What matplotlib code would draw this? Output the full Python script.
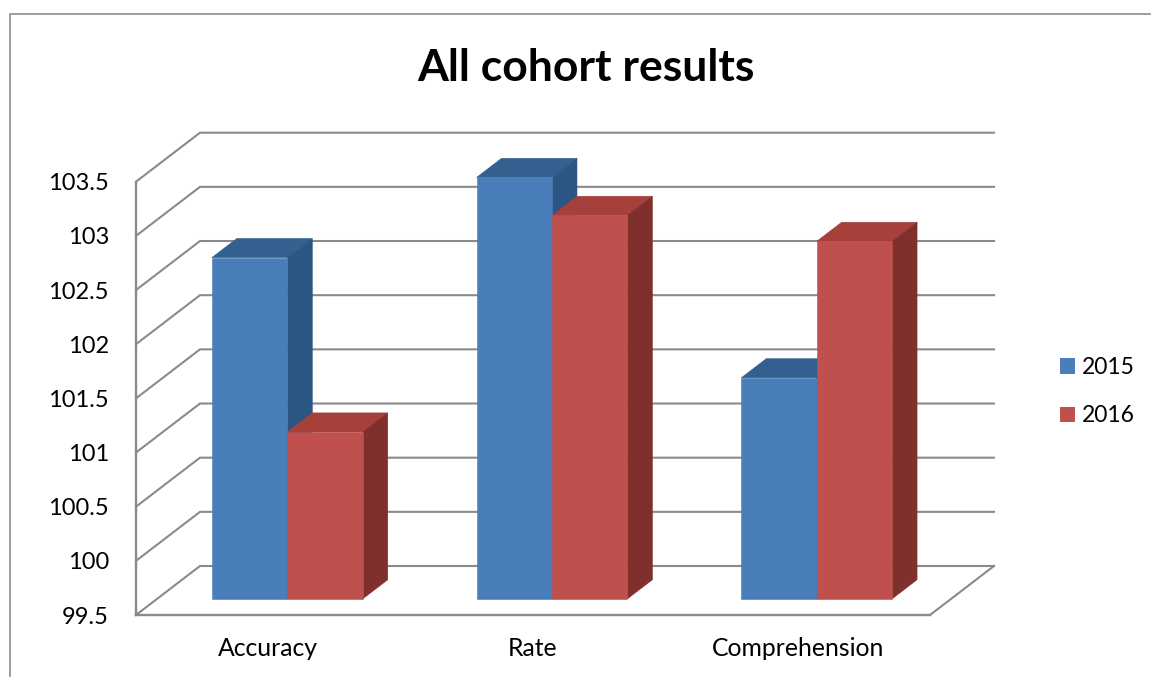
import matplotlib
matplotlib.use("Agg")
import matplotlib.pyplot as plt
from matplotlib.lines import Line2D
from matplotlib.patches import Patch, Polygon

categories = ["Accuracy", "Rate", "Comprehension"]
series_names = ["2015", "2016"]
values_2015 = [102.65, 103.39, 101.54]
values_2016 = [101.04, 103.04, 102.80]
y_ticks = [99.5, 100, 100.5, 101, 101.5, 102, 102.5, 103, 103.5]
y_tick_labels = ["99.5", "100", "100.5", "101", "101.5", "102", "102.5", "103", "103.5"]

W, H = 1151, 677
plt.rcParams["font.family"] = ["Lato", "DejaVu Sans"]

GRID = "#8a8a8a"
BLUE = ("#4a7ebb", "#33608f", "#2b5582")
RED = ("#c0504d", "#a5403a", "#7f2f2c")

# oblique depth, one unit of depth in data units
DEPTH_X = 64 / (794 / 3)
DEPTH_Y = 49 / (433.3 / 4)
BAR_W = 0.285
BAR_SHIFT = -0.008
BAR_D0 = 0.33
BAR_D1 = 0.72


def proj(x, v, d=0.0):
    return (x + d * DEPTH_X, v + d * DEPTH_Y)


def draw_bar(ax, x, value, colors, z):
    front, top, side = colors
    base = y_ticks[0]
    x2 = x + BAR_W
    ax.add_patch(Polygon([proj(x, base, BAR_D0), proj(x2, base, BAR_D0),
                          proj(x2, value, BAR_D0), proj(x, value, BAR_D0)],
                         fc=front, ec=front, lw=0.4, clip_on=False, zorder=z + 0.2))
    ax.add_patch(Polygon([proj(x, value, BAR_D0), proj(x2, value, BAR_D0),
                          proj(x2, value, BAR_D1), proj(x, value, BAR_D1)],
                         fc=top, ec=top, lw=0.4, clip_on=False, zorder=z))
    ax.add_patch(Polygon([proj(x2, base, BAR_D0), proj(x2, base, BAR_D1),
                          proj(x2, value, BAR_D1), proj(x2, value, BAR_D0)],
                         fc=side, ec=side, lw=0.4, clip_on=False, zorder=z + 0.1))


fig = plt.figure(figsize=(W / 100, H / 100), dpi=100)
ax = fig.add_axes([136 / W, (H - 615) / H, 794 / W, 433.3 / H])
ax.set_xlim(0, 3)
ax.set_ylim(y_ticks[0], y_ticks[-1])

# back wall and left wall grid
for v in y_ticks:
    xs, ys = zip(proj(0, v), proj(0, v, 1), proj(3, v, 1))
    ax.plot(xs, ys, color=GRID, lw=1.5, clip_on=False, zorder=1, solid_joinstyle="miter")
# floor edge on the right
xs, ys = zip(proj(3, y_ticks[0]), proj(3, y_ticks[0], 1))
ax.plot(xs, ys, color=GRID, lw=1.5, clip_on=False, zorder=1)

for i in range(len(categories)):
    x0 = i + 0.5 - BAR_W + BAR_SHIFT
    draw_bar(ax, x0, values_2015[i], BLUE, 3 + i)
    draw_bar(ax, x0 + BAR_W, values_2016[i], RED, 3.5 + i)

ax.set_xticks([i + 0.5 for i in range(len(categories))])
ax.set_xticklabels(categories, fontsize=17.8)
ax.set_yticks(y_ticks)
ax.set_yticklabels(y_tick_labels, fontsize=17)
ax.tick_params(axis="both", length=0, labelcolor="black")
ax.tick_params(axis="x", pad=16)
ax.tick_params(axis="y", pad=19.5)
for side in ["top", "right"]:
    ax.spines[side].set_visible(False)
for side in ["left", "bottom"]:
    ax.spines[side].set_color(GRID)
    ax.spines[side].set_linewidth(1.7)
ax.patch.set_visible(False)

fig.text(586 / W, 1 - 68 / H, "All cohort results", fontsize=32, fontweight="bold",
         ha="center", va="center")

handles = [Patch(fc=BLUE[0], ec="none"), Patch(fc=RED[0], ec="none")]
fig.legend(handles, series_names, loc="upper left", bbox_to_anchor=(1060 / W, 1 - 357 / H),
           bbox_transform=fig.transFigure, frameon=False, fontsize=16.5, borderpad=0,
           borderaxespad=0, handlelength=0.65, handleheight=0.65, handletextpad=0.3,
           labelspacing=1.2)

# chart area border, cropped by the picture on the right and at the bottom
fig.add_artist(Line2D([10 / W, 10 / W, 1], [0, 1 - 14 / H, 1 - 14 / H], color="#8c8c8c", lw=1.2))

fig.savefig("out.png", dpi=100)
